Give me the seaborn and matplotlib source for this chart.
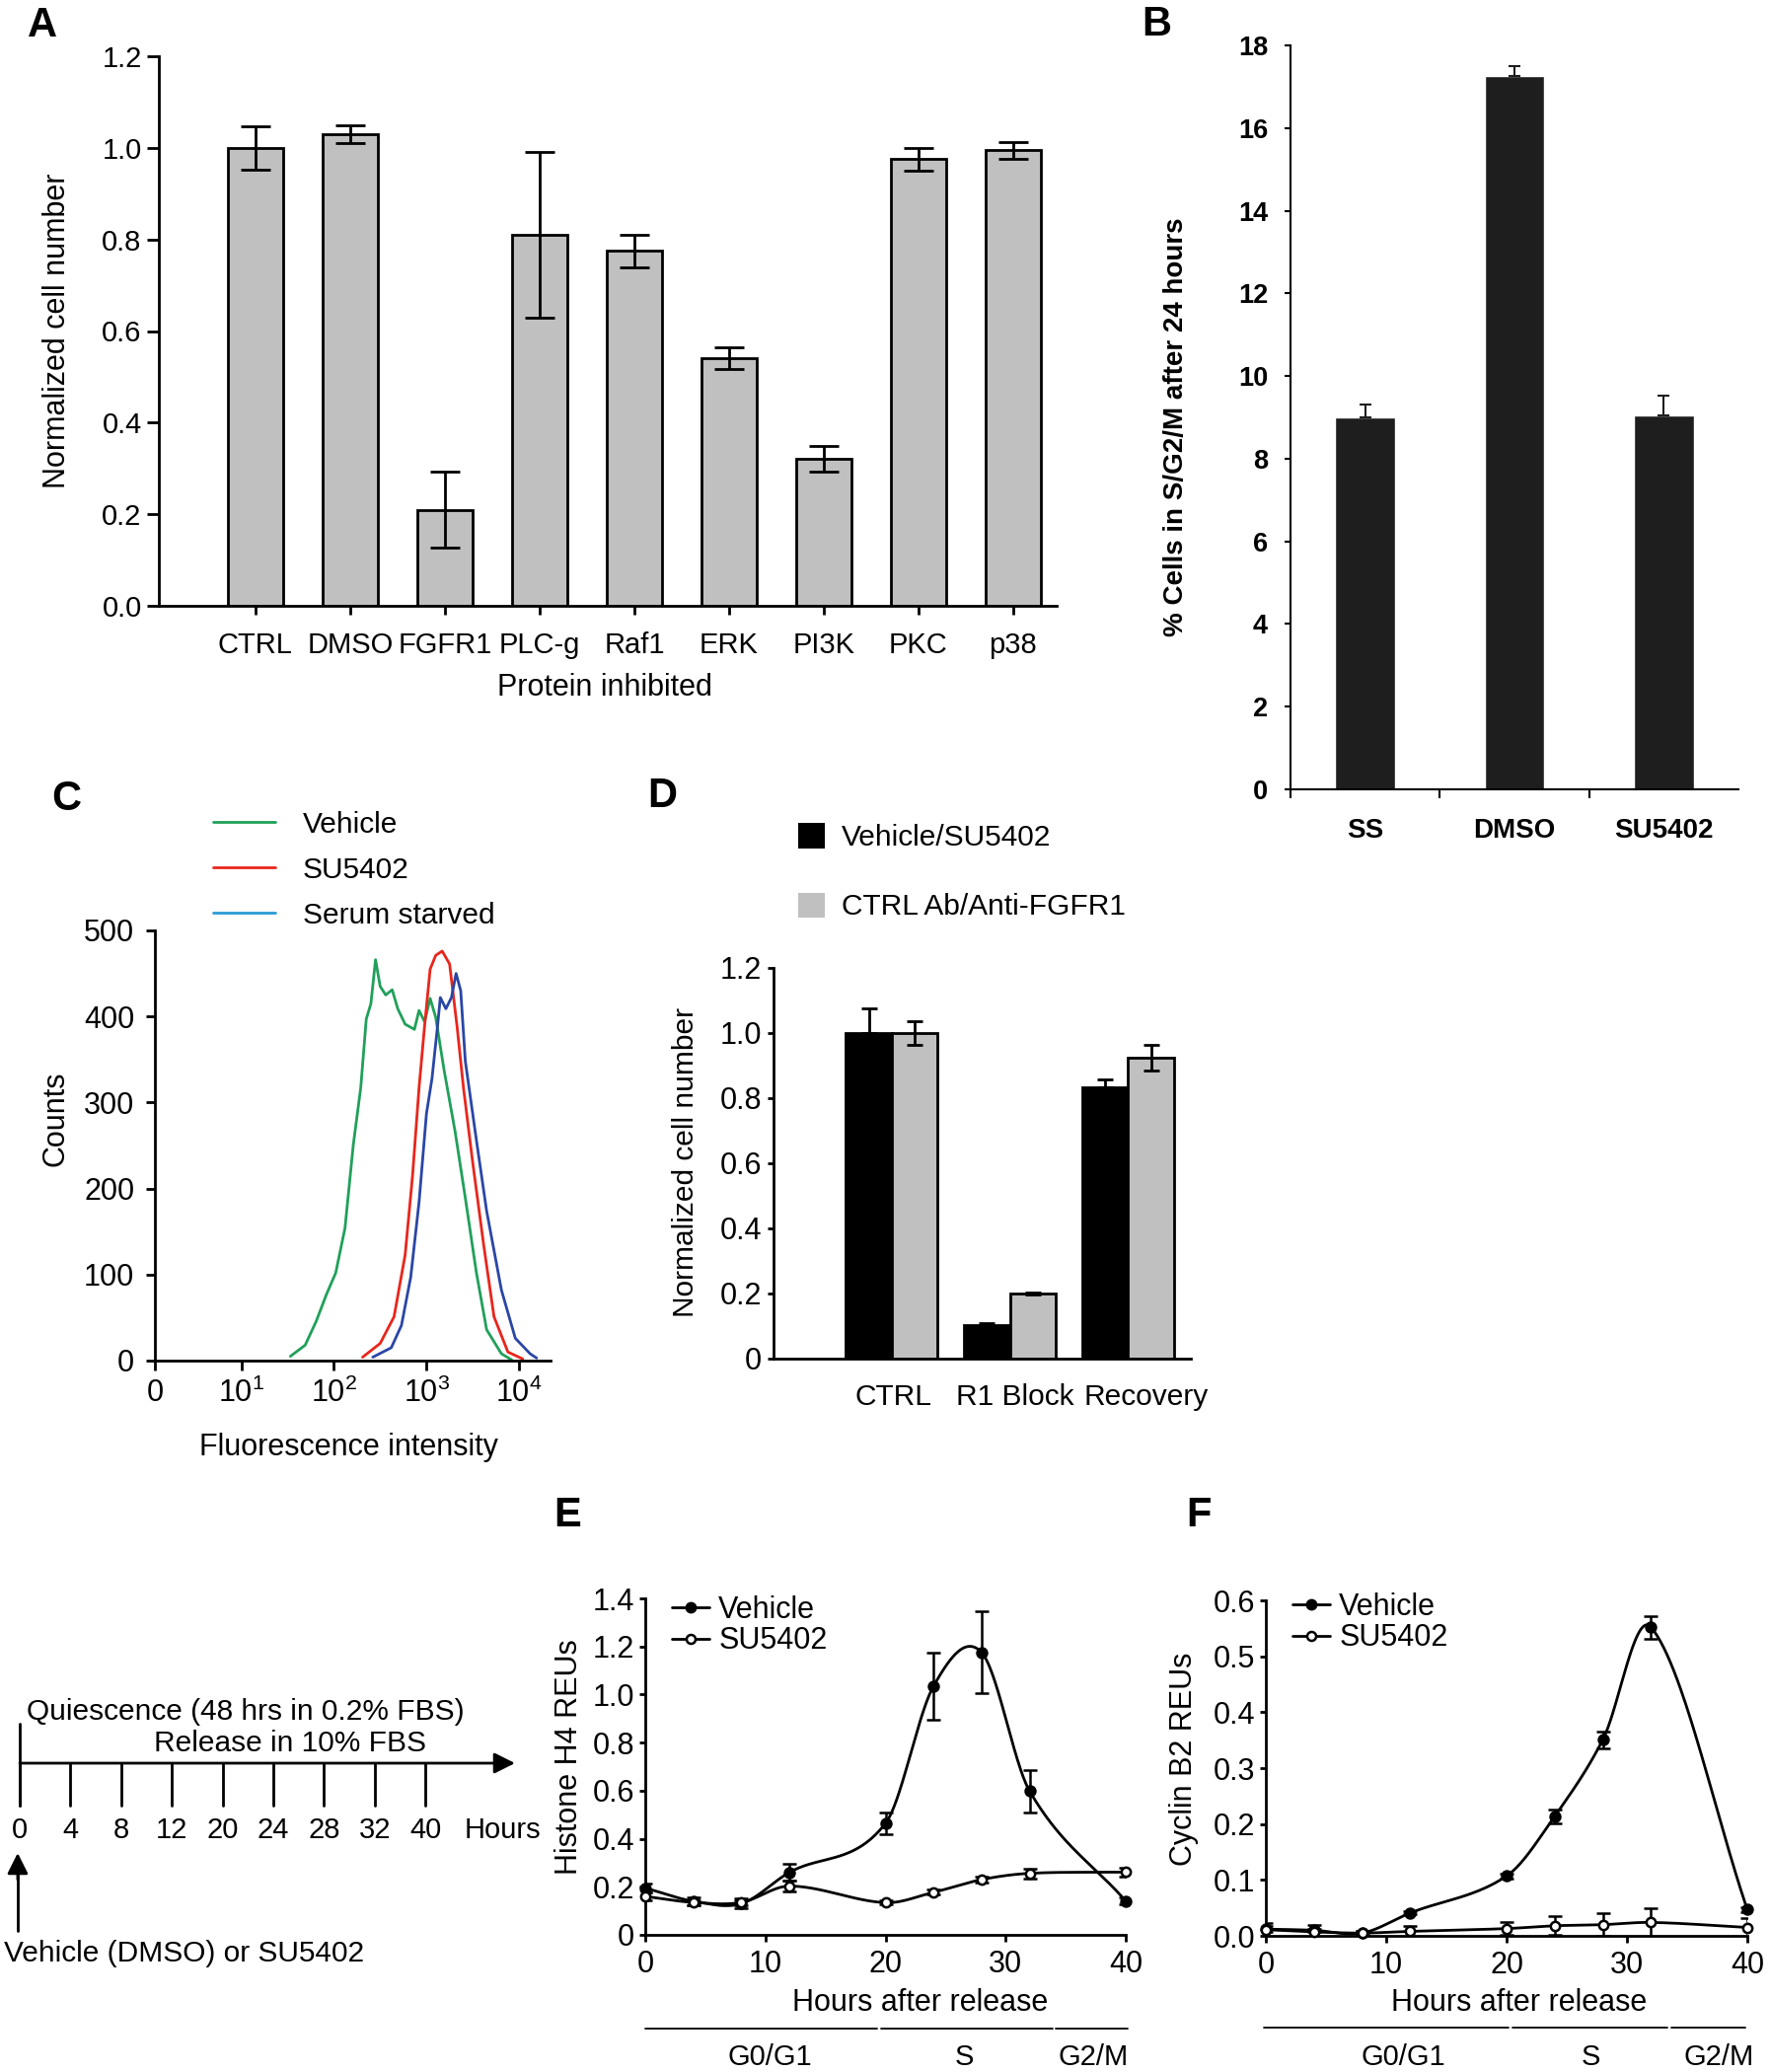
import numpy as np
import pandas as pd
import matplotlib
matplotlib.use("Agg")
import matplotlib.pyplot as plt
import seaborn as sns
from matplotlib.lines import Line2D
from matplotlib.patches import Patch
from matplotlib.ticker import NullLocator, FixedLocator
import matplotlib.transforms as mtransforms

# ---------------- DATA ----------------
# Panel A
a_proteins = ["CTRL", "DMSO", "FGFR1", "PLC-g", "Raf1", "ERK", "PI3K", "PKC", "p38"]
a_values = [1.00, 1.03, 0.21, 0.81, 0.775, 0.54, 0.32, 0.975, 0.995]
a_errors = [0.047, 0.02, 0.082, 0.18, 0.035, 0.024, 0.028, 0.025, 0.018]

# Panel B
b_groups = ["SS", "DMSO", "SU5402"]
b_values = [9.0, 17.25, 9.05]
b_errors = [0.3, 0.26, 0.48]

# Panel C (log10 fluorescence intensity, counts)
c_vehicle_log = [1.53, 1.69, 1.81, 1.92, 2.02, 2.12, 2.21, 2.29, 2.35, 2.40, 2.45, 2.50, 2.56, 2.63,
                 2.69, 2.77, 2.87, 2.92, 2.98, 3.04, 3.10, 3.19, 3.31, 3.42, 3.54, 3.65, 3.81, 3.92]
c_vehicle_counts = [5, 18, 46, 77, 102, 154, 251, 317, 397, 415, 466, 435, 425, 431,
                    409, 391, 385, 407, 394, 421, 399, 338, 266, 189, 102, 36, 8, 1]
c_su_log = [2.31, 2.50, 2.65, 2.77, 2.85, 2.92, 2.98, 3.04, 3.10, 3.17, 3.25, 3.33, 3.40, 3.50,
            3.62, 3.73, 3.88, 4.04]
c_su_counts = [4, 20, 51, 123, 215, 317, 389, 455, 471, 476, 461, 389, 317, 230, 133, 51, 10, 2]
c_ss_log = [2.42, 2.62, 2.73, 2.83, 2.92, 3.00, 3.06, 3.12, 3.15, 3.21, 3.27, 3.32, 3.37, 3.42,
            3.54, 3.65, 3.81, 3.96, 4.12, 4.19]
c_ss_counts = [4, 15, 41, 97, 184, 287, 328, 389, 422, 409, 422, 450, 430, 348, 256, 174, 82, 26, 8, 3]
c_series = ["Vehicle", "SU5402", "Serum starved"]

# Panel D
d_conditions = ["CTRL", "R1 Block", "Recovery"]
d_series = ["Vehicle/SU5402", "CTRL Ab/Anti-FGFR1"]
d_black = [1.0, 0.104, 0.834]
d_black_err = [0.075, 0.004, 0.025]
d_grey = [1.0, 0.2, 0.924]
d_grey_err = [0.035, 0.003, 0.04]

# Timeline
tl_hours = ["0", "4", "8", "12", "20", "24", "28", "32", "40"]

# Panels E / F
ef_hours = [0, 4, 8, 12, 20, 24, 28, 32, 40]
e_vehicle = [0.195, 0.14, 0.13, 0.26, 0.464, 1.035, 1.175, 0.598, 0.141]
e_vehicle_err = [0.02, 0.015, 0.02, 0.035, 0.045, 0.14, 0.17, 0.087, 0.015]
e_su = [0.16, 0.135, 0.135, 0.203, 0.134, 0.177, 0.23, 0.256, 0.261]
e_su_err = [0.015, 0.01, 0.01, 0.022, 0.008, 0.01, 0.012, 0.02, 0.02]
f_vehicle = [0.012, 0.01, 0.005, 0.041, 0.107, 0.214, 0.351, 0.552, 0.047]
f_vehicle_err = [0.005, 0.003, 0.003, 0.003, 0.004, 0.012, 0.015, 0.02, 0.004]
f_su = [0.011, 0.007, 0.005, 0.008, 0.013, 0.018, 0.02, 0.024, 0.015]
f_su_err = [0.012, 0.013, 0.003, 0.01, 0.011, 0.017, 0.02, 0.026, 0.016]
phase_names = ["G0/G1", "S", "G2/M"]
e_phase_spans = [(0, 19.3), (19.6, 33.9), (34.2, 40.2)]
e_phase_label_x = [10.4, 26.6, 37.3]
f_phase_spans = [(-0.2, 20.2), (20.5, 33.4), (33.7, 39.8)]
f_phase_label_x = [11.4, 27.0, 37.6]

# ---------------- STYLE ----------------
sns.set_theme(style="ticks")
plt.rcParams['font.family'] = ['Liberation Sans', 'DejaVu Sans']
plt.rcParams['mathtext.fontset'] = 'custom'
plt.rcParams['mathtext.rm'] = 'Liberation Sans'
plt.rcParams['axes.edgecolor'] = 'black'
plt.rcParams['xtick.color'] = 'black'
plt.rcParams['ytick.color'] = 'black'
plt.rcParams['text.color'] = 'black'
plt.rcParams['axes.labelcolor'] = 'black'

W, H = 1794, 2100
fig = plt.figure(figsize=(W / 100, H / 100), dpi=100)
fig.patch.set_facecolor('white')


def ax_px(left, top, right, bottom):
    return fig.add_axes([left / W, 1 - bottom / H, (right - left) / W, (bottom - top) / H])


def style_axes(ax, lw):
    sns.despine(ax=ax)
    for s in ['left', 'bottom']:
        ax.spines[s].set_linewidth(lw)
        ax.spines[s].set_color('black')
    ax.set_facecolor('none')


def smooth_curve(x, y, per_seg=60):
    """Piecewise cubic Hermite (Catmull-Rom style) curve through the data points."""
    x = np.asarray(x, float)
    y = np.asarray(y, float)
    m = np.zeros_like(y)
    m[0] = (y[1] - y[0]) / (x[1] - x[0])
    m[-1] = (y[-1] - y[-2]) / (x[-1] - x[-2])
    m[1:-1] = (y[2:] - y[:-2]) / (x[2:] - x[:-2])
    xs_all, ys_all = [], []
    for i in range(len(x) - 1):
        h = x[i + 1] - x[i]
        t = np.linspace(0, 1, per_seg)
        h00 = 2 * t ** 3 - 3 * t ** 2 + 1
        h10 = t ** 3 - 2 * t ** 2 + t
        h01 = -2 * t ** 3 + 3 * t ** 2
        h11 = t ** 3 - t ** 2
        xs_all.append(x[i] + t * h)
        ys_all.append(h00 * y[i] + h10 * h * m[i] + h01 * y[i + 1] + h11 * h * m[i + 1])
    return np.concatenate(xs_all), np.concatenate(ys_all)


def panel_letter(x, y, s):
    fig.text(x / W, 1 - y / H, s, fontsize=30, fontweight='bold', ha='center', va='center')


# ---------------- PANEL A ----------------
axA = ax_px(161, 57, 1071, 614)
dfA = pd.DataFrame({"protein": a_proteins, "value": a_values})
sns.barplot(data=dfA, x="protein", y="value", ax=axA, color="#c0c0c0", edgecolor="black",
            linewidth=2, width=0.58, saturation=1, errorbar=None)
axA.errorbar(np.arange(len(a_proteins)), a_values, yerr=a_errors, fmt='none', ecolor='black',
             elinewidth=2, capsize=11, capthick=2, zorder=5)
axA.set_xlim(-1.02, 8.46)
axA.set_ylim(0, 1.2)
axA.set_yticks(np.round(np.arange(0, 1.21, 0.2), 1))
axA.set_yticklabels([f"{v:.1f}" for v in np.arange(0, 1.21, 0.2)])
style_axes(axA, 2)
axA.tick_params(axis='y', direction='out', length=9, width=2, labelsize=21, pad=3.5)
axA.tick_params(axis='x', direction='out', length=6.5, width=2, labelsize=21, pad=12)
axA.set_xlabel("Protein inhibited", fontsize=22)
axA.set_ylabel("Normalized cell number", fontsize=22)
axA.xaxis.set_label_coords(0.497, -0.122)
axA.yaxis.set_label_coords(-0.097, 0.5)
panel_letter(43, 26, "A")

# ---------------- PANEL B ----------------
axB = ax_px(1308, 46, 1762, 800)
dfB = pd.DataFrame({"group": b_groups, "value": b_values})
sns.barplot(data=dfB, x="group", y="value", ax=axB, color="#1e1e1e", width=0.4, saturation=1,
            errorbar=None)
axB.errorbar(np.arange(len(b_groups)), b_values, yerr=[np.zeros(len(b_values)), b_errors],
             fmt='none', ecolor='#1e1e1e', elinewidth=1.5, capsize=4, capthick=1.5, zorder=5)
axB.set_xlim(-0.5, 2.5)
axB.set_ylim(0, 18)
axB.set_yticks(np.arange(0, 19, 2))
axB.xaxis.set_major_locator(FixedLocator([-0.5, 0.5, 1.5]))
axB.xaxis.set_minor_locator(FixedLocator(np.arange(len(b_groups))))
axB.set_xticklabels([], minor=False)
axB.set_xticklabels(b_groups, minor=True)
style_axes(axB, 1.5)
axB.tick_params(axis='y', direction='out', length=4, width=1.5, labelsize=19.5, pad=12.5)
axB.tick_params(axis='x', which='major', direction='out', length=6.5, width=1.5)
axB.tick_params(axis='x', which='minor', length=0, labelsize=20, pad=21)
for lbl in axB.get_yticklabels() + axB.get_xticklabels(minor=True):
    lbl.set_fontweight('bold')
axB.set_xlabel("")
axB.set_ylabel("% Cells in S/G2/M after 24 hours", fontsize=20, fontweight='bold')
axB.yaxis.set_label_coords(-0.227, 0.487)
panel_letter(1172, 25, "B")

# ---------------- PANEL C ----------------
axC = ax_px(157, 943, 558, 1379)
dfC = pd.DataFrame({
    "intensity": np.concatenate([10 ** np.array(c_vehicle_log), 10 ** np.array(c_su_log),
                                 10 ** np.array(c_ss_log)]),
    "counts": np.concatenate([c_vehicle_counts, c_su_counts, c_ss_counts]),
    "sample": (["Vehicle"] * len(c_vehicle_log) + ["SU5402"] * len(c_su_log)
               + ["Serum starved"] * len(c_ss_log)),
})
c_palette = {"Vehicle": "#20a05a", "SU5402": "#e8261c", "Serum starved": "#2a46a6"}
sns.lineplot(data=dfC, x="intensity", y="counts", hue="sample", palette=c_palette,
             estimator=None, sort=False, linewidth=2, ax=axC, legend=False)
axC.set_xscale('symlog', linthresh=10, linscale=0.84)
axC.set_xlim(0, 21900)
axC.set_ylim(0, 500)
axC.set_xticks([0, 10, 100, 1000, 10000])
axC.set_xticklabels(["0", "$10^{1}$", "$10^{2}$", "$10^{3}$", "$10^{4}$"])
axC.xaxis.set_minor_locator(NullLocator())
axC.set_yticks(np.arange(0, 501, 100))
style_axes(axC, 2)
axC.tick_params(axis='y', direction='out', length=6.5, width=2, labelsize=22, pad=8.5)
axC.tick_params(axis='x', direction='out', length=7, width=2, labelsize=22, pad=6)
axC.set_xlabel("Fluorescence intensity", fontsize=22)
axC.set_ylabel("Counts", fontsize=22)
axC.xaxis.set_label_coords(0.489, -0.168)
axC.yaxis.set_label_coords(-0.214, 0.562)
c_handles = [Line2D([], [], color="#20a05a", lw=2), Line2D([], [], color="#e8261c", lw=2),
             Line2D([], [], color="#2a9ad6", lw=2)]
axC.legend(c_handles, c_series, loc='upper left', bbox_to_anchor=(0.147, 1.278), frameon=False,
           fontsize=21.5, handlelength=2.1, handletextpad=0.95, labelspacing=0.6, borderpad=0,
           borderaxespad=0)
panel_letter(67, 810, "C")

# ---------------- PANEL D ----------------
axD = ax_px(784, 981, 1207, 1377)
dfD = pd.DataFrame({
    "condition": d_conditions * 2,
    "series": [d_series[0]] * 3 + [d_series[1]] * 3,
    "value": d_black + d_grey,
})
sns.barplot(data=dfD, x="condition", y="value", hue="series", hue_order=d_series,
            palette=["black", "#c0c0c0"], edgecolor="black", linewidth=2, width=0.774,
            saturation=1, errorbar=None, ax=axD, legend=False)
for cont, vals, errs, lower in zip(axD.containers, [d_black, d_grey], [d_black_err, d_grey_err],
                                   [False, True]):
    xs = [p.get_x() + p.get_width() / 2 for p in cont.patches]
    low = errs if lower else np.zeros(len(errs))
    axD.errorbar(xs, vals, yerr=[low, errs], fmt='none', ecolor='black', elinewidth=2,
                 capsize=5.5, capthick=2, zorder=5)
axD.set_xlim(-1.0, 2.53)
axD.set_ylim(0, 1.2)
axD.set_yticks(np.round(np.arange(0, 1.21, 0.2), 1))
axD.set_yticklabels(["0", "0.2", "0.4", "0.6", "0.8", "1.0", "1.2"])
style_axes(axD, 2)
axD.tick_params(axis='y', direction='out', length=4.5, width=2, labelsize=22, pad=4)
axD.tick_params(axis='x', length=0, labelsize=21.5, pad=18)
# nudge the wider category labels to follow the reference spacing
for lbl, dx in zip(axD.get_xticklabels(), [1, 4, 13]):
    lbl.set_transform(lbl.get_transform() + mtransforms.ScaledTranslation(dx / 72, 0, fig.dpi_scale_trans))
axD.set_xlabel("")
axD.set_ylabel("Normalized cell number", fontsize=21.5)
axD.yaxis.set_label_coords(-0.177, 0.503)
d_handles = [Patch(facecolor="black", edgecolor="none"), Patch(facecolor="#c0c0c0", edgecolor="none")]
axD.legend(d_handles, d_series, loc='upper left', bbox_to_anchor=(0.059, 1.37), frameon=False,
           fontsize=21.5, handlelength=0.92, handleheight=0.92, handletextpad=0.55,
           labelspacing=1.38, borderpad=0, borderaxespad=0)
panel_letter(671, 807, "D")

# ---------------- TIMELINE ----------------
axT = ax_px(0, 1700, 560, 2010)
axT.set_axis_off()
step = 51.4
axT.set_xlim(-20 / step, 540 / step)
axT.set_ylim(2010, 1700)
axT.annotate('', xy=((522 - 20) / step, 1787), xytext=(0, 1787),
             arrowprops=dict(arrowstyle='-|>', lw=2, color='black', mutation_scale=32,
                             shrinkA=0, shrinkB=0))
axT.plot([0, 0], [1747, 1830], color='black', lw=2)
for i, lab in enumerate(tl_hours):
    axT.plot([i, i], [1787, 1830], color='black', lw=2)
    axT.text(i, 1855, lab, fontsize=21, ha='center', va='center')
axT.text((509 - 20) / step, 1855, "Hours", fontsize=21, ha='center', va='center')
axT.text((27 - 20) / step, 1735, "Quiescence (48 hrs in 0.2% FBS)", fontsize=21.5, ha='left',
         va='center')
axT.text((156 - 20) / step, 1767, "Release in 10% FBS", fontsize=21.5, ha='left', va='center')
axT.plot([-0.04, -0.04], [1957, 1895], color='black', lw=2)
axT.annotate('', xy=(-0.04, 1878), xytext=(-0.04, 1905),
             arrowprops=dict(arrowstyle='-|>', lw=2, color='black', mutation_scale=32,
                             shrinkA=0, shrinkB=0))
axT.text((4 - 20) / step, 1980, "Vehicle (DMSO) or SU5402", fontsize=21.5, ha='left', va='center')


# ---------------- PANELS E / F ----------------
def time_panel(ax, veh, veh_err, su, su_err, ymax, ystep, ylabels, ylabel, spans, lab_x,
               ylab_coords, xlab_coords, leg_anchor, line_y, lab_y):
    xs, ys = smooth_curve(ef_hours, veh)
    ax.plot(xs, ys, color='black', lw=2, zorder=3)
    xs2, ys2 = smooth_curve(ef_hours, su)
    ax.plot(xs2, ys2, color='black', lw=2, zorder=3)
    ax.errorbar(ef_hours, veh, yerr=veh_err, fmt='none', ecolor='black', elinewidth=1.8,
                capsize=5, capthick=1.8, zorder=4)
    ax.errorbar(ef_hours, su, yerr=su_err, fmt='none', ecolor='black', elinewidth=1.8,
                capsize=5, capthick=1.8, zorder=4)
    sns.scatterplot(x=ef_hours, y=veh, ax=ax, color='black', s=60, edgecolor='black',
                    linewidth=1.2, zorder=6, clip_on=False)
    sns.scatterplot(x=ef_hours, y=su, ax=ax, color='white', s=45, edgecolor='black',
                    linewidth=1.8, zorder=6, clip_on=False)
    ax.set_xlim(0, 40)
    ax.set_ylim(0, ymax)
    ax.set_xticks([0, 10, 20, 30, 40])
    ax.set_yticks(np.round(np.arange(0, ymax + 1e-9, ystep), 2))
    ax.set_yticklabels(ylabels)
    style_axes(ax, 2)
    ax.tick_params(axis='y', direction='out', length=4, width=2, labelsize=22, pad=4)
    ax.tick_params(axis='x', direction='out', length=5, width=2, labelsize=22, pad=6)
    ax.set_xlabel("Hours after release", fontsize=22)
    ax.set_ylabel(ylabel, fontsize=22)
    ax.yaxis.set_label_coords(*ylab_coords)
    ax.xaxis.set_label_coords(*xlab_coords)
    handles = [Line2D([], [], color='black', lw=2, marker='o', ms=7.5, mfc='black'),
               Line2D([], [], color='black', lw=2, marker='o', ms=6.5, mfc='white', mew=1.8)]
    ax.legend(handles, ["Vehicle", "SU5402"], loc='upper left', bbox_to_anchor=leg_anchor,
              frameon=False, fontsize=22, handlelength=1.25, handletextpad=0.3,
              labelspacing=0.05, borderpad=0, borderaxespad=0)
    trans = mtransforms.blended_transform_factory(ax.transData, ax.transAxes)
    for (x0, x1), name, lx in zip(spans, phase_names, lab_x):
        ax.plot([x0, x1], [line_y, line_y], transform=trans, color='black', lw=1.3, clip_on=False)
        ax.text(lx, lab_y, name, transform=trans, fontsize=21, ha='center', va='center')


axE = ax_px(654, 1620, 1141, 1961)
time_panel(axE, e_vehicle, e_vehicle_err, e_su, e_su_err, 1.4, 0.2,
           ["0", "0.2", "0.4", "0.6", "0.8", "1.0", "1.2", "1.4"], "Histone H4 REUs",
           e_phase_spans, e_phase_label_x, (-0.127, 0.528), (0.573, -0.158), (0.055, 1.009),
           -0.279, -0.364)
panel_letter(575, 1536, "E")

axF = ax_px(1283, 1622, 1771, 1962)
time_panel(axF, f_vehicle, f_vehicle_err, f_su, f_su_err, 0.6, 0.1,
           ["0.0", "0.1", "0.2", "0.3", "0.4", "0.5", "0.6"], "Cyclin B2 REUs",
           f_phase_spans, f_phase_label_x, (-0.139, 0.526), (0.525, -0.156), (0.055, 1.024),
           -0.274, -0.362)
panel_letter(1215, 1536, "F")

fig.savefig("out.png", dpi=100, facecolor='white')
